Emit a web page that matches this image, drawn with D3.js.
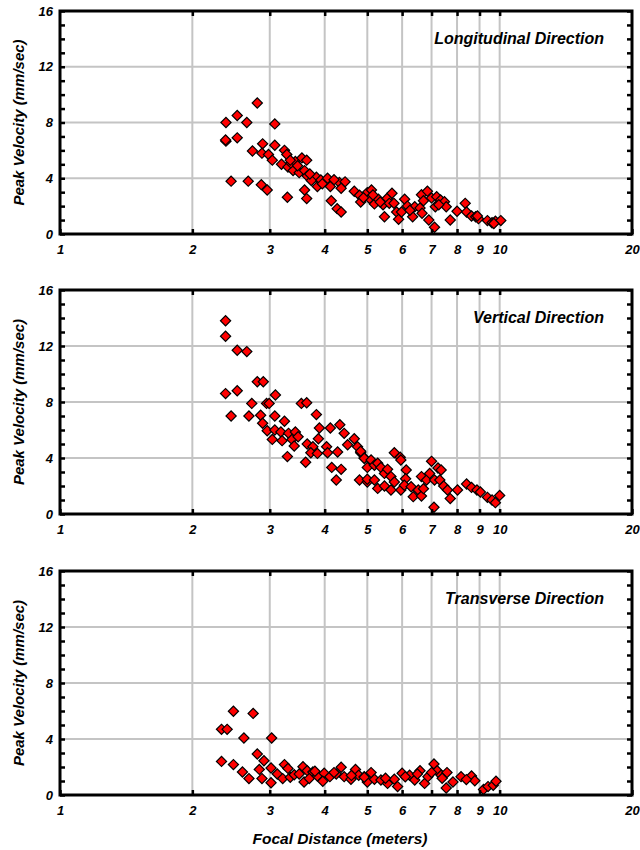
<!DOCTYPE html>
<html><head><meta charset="utf-8">
<script src="https://cdn.jsdelivr.net/npm/d3@7/dist/d3.min.js"></script>
<style>
body{margin:0;background:#fff;}
svg text{font-family:"Liberation Sans",Arial,sans-serif;font-weight:bold;font-style:italic;}
</style></head>
<body><svg id="c" width="640" height="850"></svg>
<script>
const xTickVals = [1,2,3,4,5,6,7,8,9,10,20];
const xGridVals = [2,3,4,5,6,7,8,9,10];
const yTickVals = [0,4,8,12,16];
const yMinorVals = [0,1,2,3,4,5,6,7,8,9,10,11,12,13,14,15,16];
const panelTitles = ["Longitudinal Direction","Vertical Direction","Transverse Direction"];
const yTitle = "Peak Velocity (mm/sec)";
const xTitle = "Focal Distance (meters)";

const longX = [2.385,2.53,2.81,2.66,3.08,2.385,2.38,2.53,2.74,2.89,3.08,2.88,2.98,3.04,3.24,3.28,3.19,3.30,3.39,3.35,3.43,3.50,3.55,3.64,3.60,3.65,3.83,3.73,3.85,3.60,3.64,3.29,2.45,2.68,2.87,2.96,3.92,4.06,4.12,4.14,4.27,4.36,4.32,4.45,4.36,4.67,4.80,4.83,5.0,5.11,5.06,5.19,5.30,5.43,5.47,5.55,5.69,5.61,5.75,5.83,5.89,6.08,6.17,5.98,6.34,6.41,6.59,6.66,6.64,6.85,6.71,6.90,7.11,7.00,7.14,7.19,7.34,7.49,7.56,7.72,8.0,8.35,8.41,8.63,8.82,8.95,9.38,9.61,9.78,10.06,3.34,3.47,3.70,3.95,4.2,4.9,5.15,5.35,6.25,7.27,8.9,9.7];
const longY = [8.0,8.5,9.4,8.0,7.9,6.66,6.75,6.9,5.96,6.47,6.37,5.8,5.7,5.3,6.0,5.7,5.0,4.8,4.55,5.1,5.2,4.4,5.46,5.3,4.55,4.17,4.07,3.83,3.4,3.16,2.54,2.64,3.79,3.79,3.54,3.16,3.88,4.0,3.4,2.39,1.82,1.58,3.69,3.74,3.28,3.07,2.78,2.30,2.97,3.16,2.54,2.16,2.49,2.1,1.24,2.56,2.92,2.2,2.2,1.58,1.05,2.49,2.0,1.58,1.24,1.96,1.87,1.49,2.82,3.07,2.39,1.0,0.48,2.59,1.96,2.68,2.44,2.32,1.96,1.0,1.63,2.2,1.58,1.29,1.24,1.1,0.96,0.81,0.91,0.96,5.3,4.9,4.3,3.6,3.9,2.6,2.8,2.3,1.7,2.1,1.3,0.75];

const vertX = [2.38,2.38,2.53,2.66,2.81,2.90,2.38,2.53,3.09,2.73,2.95,2.99,3.54,3.64,2.45,2.69,2.86,3.08,3.83,2.89,3.24,2.96,3.08,3.18,3.31,3.43,3.04,3.20,3.37,3.48,3.41,3.29,3.62,3.65,3.76,3.87,3.89,3.72,3.85,4.04,4.12,4.33,4.06,4.15,4.28,4.36,4.25,4.43,4.51,4.67,4.75,4.83,4.92,4.80,5.0,4.83,4.92,5.1,5.0,5.19,5.28,5.37,5.47,5.56,5.0,5.19,5.28,5.47,5.66,5.76,5.66,5.76,5.94,5.96,6.13,6.11,5.96,6.07,6.36,6.29,6.64,6.53,6.64,6.71,6.82,6.93,7.0,7.11,7.09,7.24,7.36,7.31,7.46,7.61,7.72,8.02,8.41,8.63,8.88,9.04,9.38,9.61,9.78,10.0];
const vertY = [13.8,12.7,11.7,11.6,9.45,9.45,8.6,8.8,8.5,7.9,7.9,7.9,7.9,7.95,7.0,7.0,7.05,7.0,7.1,6.48,6.62,5.95,6.0,5.86,5.76,5.86,5.33,5.24,5.33,5.52,4.86,4.1,3.7,5.0,4.8,5.38,6.14,4.38,4.33,4.81,6.14,6.38,4.38,3.33,4.43,3.19,2.43,5.76,4.95,5.38,4.81,4.38,4.0,2.43,2.29,4.48,3.98,3.86,3.33,3.48,3.62,3.33,2.9,3.19,2.48,2.43,1.83,2.0,2.67,2.29,1.71,4.38,4.05,3.86,3.14,2.52,1.71,2.05,1.24,1.95,2.67,1.71,1.29,1.81,2.43,2.9,3.76,2.43,0.48,3.29,3.14,2.43,2.0,1.71,1.1,1.71,2.14,1.9,1.71,1.57,1.19,1.0,0.81,1.33];

const tranX = [2.48,2.75,2.33,2.40,2.62,3.03,2.33,2.48,2.60,2.69,2.81,2.91,2.84,3.02,2.88,3.02,3.24,3.12,3.21,3.34,3.41,3.57,3.50,3.65,3.76,3.59,3.69,3.85,3.99,3.96,4.11,4.25,4.36,4.43,4.59,4.70,4.78,4.92,5.0,4.92,5.19,5.37,5.56,5.76,5.86,6.0,6.24,6.41,6.59,6.75,6.87,7.09,7.21,7.36,7.59,7.56,7.83,8.17,8.63,8.78,9.19,9.41,9.67,9.81,3.3,3.8,4.2,4.6,5.1,5.5,6.1,6.5,7.0,7.4,8.4];
const tranY = [5.98,5.83,4.69,4.69,4.07,4.07,2.4,2.17,1.64,1.17,2.93,2.45,1.83,1.93,1.17,0.88,2.17,1.5,1.17,1.26,1.45,2.02,1.5,1.74,1.64,0.93,1.17,1.36,1.55,0.98,1.31,1.5,1.98,1.31,1.12,1.83,1.41,1.31,0.93,1.26,1.12,1.07,0.83,1.12,0.6,1.55,1.41,1.07,1.74,0.83,1.31,2.21,1.74,1.41,1.6,0.5,0.93,1.31,1.36,1.02,0.4,0.6,0.69,0.98,1.9,1.7,1.6,1.4,1.6,1.2,1.3,1.5,1.6,1.2,1.1];

const panelXs = [longX, vertX, tranX];
const panelYs = [longY, vertY, tranY];

const svg = d3.select("#c");
const xLeft = 60, xRight = 632;
const tops = [11, 290, 571], bottoms = [234, 514, 795];
const x = d3.scaleLog().domain([1,20]).range([xLeft, xRight]);

panelTitles.forEach((title, i) => {
  const y = d3.scaleLinear().domain([0,16]).range([bottoms[i], tops[i]]);
  const g = svg.append("g");
  g.selectAll(".gx").data(xGridVals).enter().append("line")
    .attr("x1", d => x(d)).attr("x2", d => x(d))
    .attr("y1", tops[i]).attr("y2", bottoms[i])
    .attr("stroke", "#c4c4c4").attr("stroke-width", 2);
  g.selectAll(".gy").data([4,8,12]).enter().append("line")
    .attr("x1", xLeft).attr("x2", xRight)
    .attr("y1", d => y(d)).attr("y2", d => y(d))
    .attr("stroke", "#c4c4c4").attr("stroke-width", 2);
  const pts = panelXs[i].map((v, k) => [v, panelYs[i][k]]);
  const sym = d3.symbol().type(d3.symbolSquare).size(52);
  g.selectAll(".pt").data(pts).enter().append("path")
    .attr("d", sym)
    .attr("transform", d => `translate(${x(d[0])},${y(d[1])}) rotate(45)`)
    .attr("fill", "#ff0000").attr("stroke", "#000").attr("stroke-width", 1.2);
  g.append("rect").attr("x", xLeft).attr("y", tops[i])
    .attr("width", xRight - xLeft).attr("height", bottoms[i] - tops[i])
    .attr("fill", "none").attr("stroke", "#000").attr("stroke-width", 3);
  const styleAxis = sel => {
    sel.select(".domain").remove();
    sel.selectAll(".tick line").attr("stroke", "#000").attr("stroke-width", 2.5);
    sel.selectAll("text").attr("fill", "#000").style("font-size", "13px");
  };
  g.append("g").attr("transform", `translate(0,${bottoms[i]})`)
    .call(d3.axisBottom(x).tickValues(xTickVals).tickFormat(d3.format("d")).tickSizeInner(-5).tickSizeOuter(0).tickPadding(11))
    .call(styleAxis);
  g.append("g").attr("transform", `translate(0,${tops[i]})`)
    .call(d3.axisTop(x).tickValues(xGridVals).tickFormat("").tickSizeInner(-5).tickSizeOuter(0))
    .call(styleAxis);
  g.append("g").attr("transform", `translate(${xLeft},0)`)
    .call(d3.axisLeft(y).tickValues(yMinorVals).tickFormat("").tickSizeInner(-5).tickSizeOuter(0))
    .call(styleAxis);
  g.append("g").attr("transform", `translate(${xLeft},0)`)
    .call(d3.axisLeft(y).tickValues(yTickVals).tickFormat(d3.format("d")).tickSizeInner(0).tickSizeOuter(0).tickPadding(7))
    .call(styleAxis);
  g.append("g").attr("transform", `translate(${xRight},0)`)
    .call(d3.axisRight(y).tickValues(yMinorVals).tickFormat("").tickSizeInner(-5).tickSizeOuter(0))
    .call(styleAxis);
  g.append("text").attr("x", 604).attr("y", tops[i] + 33)
    .attr("text-anchor", "end").style("font-size", "16px").text(title);
  const cy = (tops[i] + bottoms[i]) / 2;
  g.append("text").attr("transform", `translate(24,${cy}) rotate(-90)`)
    .attr("text-anchor", "middle").style("font-size", "15px").text(yTitle);
});
svg.append("text").attr("x", 340).attr("y", 844).attr("text-anchor", "middle")
  .style("font-size", "15.5px").text(xTitle);
</script></body></html>
